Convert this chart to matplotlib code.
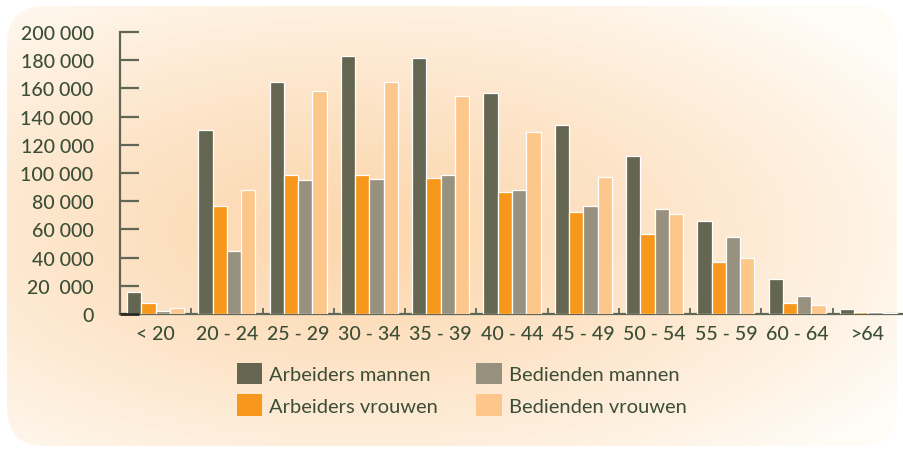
import numpy as np
import matplotlib
matplotlib.use("Agg")
import matplotlib.pyplot as plt
from matplotlib import font_manager as fm
from matplotlib.patches import FancyBboxPatch, Patch

# ---- data ----
categories = ["< 20", "20 - 24", "25 - 29", "30 - 34", "35 - 39", "40 - 44",
              "45 - 49", "50 - 54", "55 - 59", "60 - 64", ">64"]
arbeiders_mannen = [15500, 130500, 164700, 183200, 181800, 156900, 134200, 112200, 66000, 24800, 3500]
arbeiders_vrouwen = [7800, 76700, 98700, 98700, 96600, 86600, 72400, 56800, 36900, 7800, 1400]
bedienden_mannen = [2100, 44700, 95100, 95800, 98700, 88000, 76700, 74500, 54700, 12800, 1400]
bedienden_vrouwen = [4000, 88000, 158300, 164700, 154800, 129200, 97300, 71000, 39800, 6400, 700]
series_names = ["Arbeiders mannen", "Arbeiders vrouwen", "Bedienden mannen", "Bedienden vrouwen"]
yticks = [0, 20000, 40000, 60000, 80000, 100000, 120000, 140000, 160000, 180000, 200000]
ytick_labels = ["0", "20  000", "40 000", "60 000", "80 000", "100 000", "120 000",
                "140 000", "160 000", "180 000", "200 000"]

colors = ["#656651", "#f7981d", "#999180", "#fdc68b"]
text_color = "#3c4e37"
axis_color = "#5f6655"

names = {f.name for f in fm.fontManager.ttflist}
main_font = "Lato" if "Lato" in names else "DejaVu Sans"

W, H = 904, 452
fig = plt.figure(figsize=(W / 100, H / 100), dpi=100)
fig.patch.set_facecolor("white")

# ---- background gradient with rounded corners ----
ax_bg = fig.add_axes([0, 0, 1, 1], zorder=-10)
yy, xx = np.mgrid[0:H, 0:W]
cx, cy, rx, ry = 360, 235, 630, 300
t = np.sqrt(((xx - cx) / rx) ** 2 + ((yy - cy) / ry) ** 2)
t = np.clip(t, 0, 1) ** 1.25
c0 = np.array([252, 215, 174]) / 255.0
c1 = np.array([255, 251, 245]) / 255.0
img = c0[None, None, :] * (1 - t[..., None]) + c1[None, None, :] * t[..., None]
im = ax_bg.imshow(img, extent=[0, W, H, 0], interpolation="bilinear")
ax_bg.set_xlim(0, W)
ax_bg.set_ylim(H, 0)
clip = FancyBboxPatch((7, 7), 890, 440, boxstyle="round,pad=0,rounding_size=38",
                      transform=ax_bg.transData, facecolor="none", edgecolor="none")
ax_bg.add_patch(clip)
im.set_clip_path(clip)
ax_bg.axis("off")

# ---- main axes ----
left = 120 / W
bottom = (H - 315) / H
top = (H - 33) / H
ax = fig.add_axes([left, bottom, 1 - left, top - bottom])
ax.set_facecolor("none")

x = np.arange(len(categories))
group_px = 71.7
ax.set_xlim(-0.5, -0.5 + (W - 120) / group_px)
ax.set_ylim(0, 200000)

all_series = [arbeiders_mannen, arbeiders_vrouwen, bedienden_mannen, bedienden_vrouwen]
offsets = [-0.3, -0.1, 0.1, 0.3]
for vals, off, col, name in zip(all_series, offsets, colors, series_names):
    ax.bar(x + off, vals, width=0.2, color=col, edgecolor="white", linewidth=0.9,
           label=name, zorder=3)

for s in ["top", "right"]:
    ax.spines[s].set_visible(False)
for s in ["left", "bottom"]:
    ax.spines[s].set_color(axis_color)
    ax.spines[s].set_linewidth(1.6)

# dark corner accent at the origin
ax.plot([0, 19 / (W - 120)], [0, 0], transform=ax.transAxes, color="#2a2a22",
        lw=2.0, clip_on=False, zorder=4, solid_capstyle="butt")

ax.set_yticks(yticks)
ax.set_yticklabels(ytick_labels, fontfamily=main_font, fontsize=14, fontweight="medium",
                   color=text_color)
ax.tick_params(axis="y", direction="in", length=14, width=1.6, color=axis_color, pad=19)

# group boundary ticks (major) and category labels (minor)
ax.set_xticks(np.arange(len(categories)) + 0.5)
ax.set_xticklabels([])
ax.tick_params(axis="x", which="major", direction="in", length=4.5, width=1.3,
               color=axis_color)
ax.set_xticks(x, minor=True)
ax.set_xticklabels(categories, minor=True, fontfamily=main_font, fontsize=14,
                   fontweight="medium", color=text_color)
ax.tick_params(axis="x", which="minor", direction="in", length=0, pad=8)

# ---- legend ----
handles = [Patch(facecolor=c, edgecolor="none") for c in colors]
leg = fig.legend(handles, series_names, loc="upper left",
                 bbox_to_anchor=(237 / W, (H - 364) / H), ncol=2, frameon=False,
                 prop={"family": main_font, "size": 14.5},
                 handlelength=1.25, handleheight=1.25, handletextpad=0.35,
                 columnspacing=1.9, labelspacing=0.5, borderpad=0, borderaxespad=0)
for txt in leg.get_texts():
    txt.set_color(text_color)

fig.savefig("out.png", dpi=100, facecolor="white")
